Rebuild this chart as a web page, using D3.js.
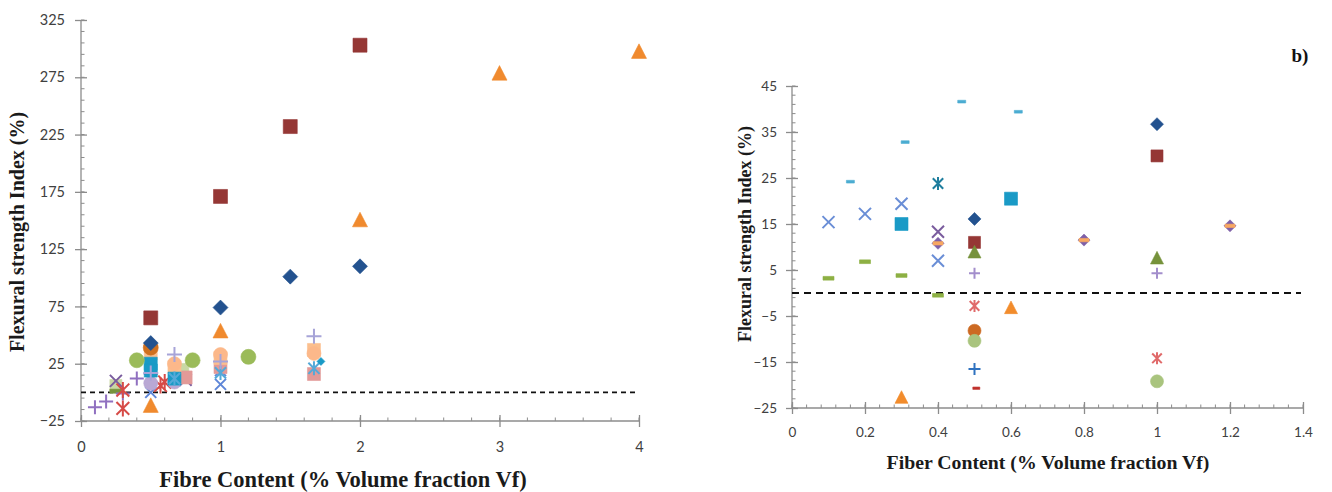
<!DOCTYPE html>
<html><head><meta charset="utf-8">
<script src="https://cdn.jsdelivr.net/npm/d3@7"></script>
<style>
html,body{margin:0;padding:0;background:#fff;}
svg{display:block;}
.tick text{font-family:Lato,"Open Sans",sans-serif;}
</style></head>
<body>
<svg id="c" width="1332" height="492"></svg>
<script>
// ---------- tick labels ----------
const leftXTicks = [0, 1, 2, 3, 4];
const leftYTicks = [-25, 25, 75, 125, 175, 225, 275, 325];
const rightXTicks = [0, 0.2, 0.4, 0.6, 0.8, 1, 1.2, 1.4];
const rightYTicks = [-25, -15, -5, 5, 15, 25, 35, 45];

// ---------- left chart (a) series: [Vf, index] ----------
const L_darkBlueDiamond = [[0.5, 43], [1, 74], [1.5, 101], [2, 110]];
const L_darkRedSquare   = [[0.5, 65], [1, 171], [1.5, 232], [2, 303]];
const L_orangeTriangle  = [[0.5, -12], [1, 53], [2, 150], [3, 278], [4, 297]];
const L_greenCircle     = [[0.4, 28], [0.8, 28], [1.2, 31]];
const L_brownCircle     = [[0.5, 39]];
const L_tealSquare      = [[0.5, 25], [0.5, 19], [0.67, 12]];
const L_peachSquare     = [[0.5, 34], [0.67, 22], [1, 30], [1.67, 37]];
const L_peachCircle     = [[0.67, 25], [1, 33], [1.67, 34]];
const L_salmonSquare    = [[0.75, 13], [1, 22], [1.67, 16]];
const L_lavenderPlus    = [[0.5, 17], [0.67, 33], [1, 27], [1.67, 49]];
const L_purplePlus      = [[0.1, -13], [0.18, -8], [0.3, -1], [0.4, 12], [0.5, 16]];
const L_purpleX         = [[0.25, 10], [0.5, 14], [0.75, 11]];
const L_redAsterisk     = [[0.3, -14], [0.3, 2], [0.57, 6], [0.6, 9]];
const L_lightBlueX      = [[0.5, 0], [0.67, 10], [1, 7], [1, 19]];
const L_lightBlueAst    = [[0.67, 12], [1, 17], [1.67, 21]];
const L_lightPurpleCirc = [[0.5, 8], [0.67, 9]];
const L_tanSquare       = [[0.25, 6], [0.73, 20]];
const L_greenDash       = [[0.25, 1]];
const L_tealDiamond     = [[1.72, 27]];

// ---------- right chart (b) series ----------
const R_darkBlueDiamond = [[0.5, 16.1], [1, 36.7]];
const R_darkRedSquare   = [[0.5, 11], [1, 29.8]];
const R_oliveTriangle   = [[0.5, 8.8], [1, 7.5]];
const R_blueX           = [[0.1, 15.4], [0.2, 17.2], [0.3, 19.4], [0.4, 7]];
const R_purpleX         = [[0.4, 13.3]];
const R_tealAsterisk    = [[0.4, 23.8]];
const R_redAsterisk     = [[0.5, -2.8], [1, -14.2]];
const R_lavenderPlus    = [[0.5, 4.3], [1, 4.3]];
const R_bluePlus        = [[0.5, -16.5]];
const R_brownCircle     = [[0.5, -8.2]];
const R_lightGreenCirc  = [[0.5, -10.4], [1, -19.2]];
const R_tealSquare      = [[0.3, 15], [0.6, 20.5]];
const R_orangeTriangle  = [[0.3, -22.8], [0.6, -3.3]];
const R_lightBlueDash   = [[0.16, 24.2], [0.31, 32.8], [0.465, 41.6], [0.62, 39.4]];
const R_greenDash       = [[0.1, 3.2], [0.2, 6.8], [0.3, 3.8], [0.4, -0.5]];
const R_redDash         = [[0.505, -20.7]];
const R_purpleDiamond   = [[0.4, 10.8], [0.8, 11.5], [1.2, 14.6]];
const R_orangeDash      = [[0.4, 10.8], [0.8, 11.5], [1.2, 14.6]];

// ---------- marker shapes ----------
function markerPath(type, s) {
  const h = s / 2;
  switch (type) {
    case "square": return `M${-h},${-h}h${s}v${s}h${-s}Z`;
    case "diamond": return `M0,${-h}L${h},0L0,${h}L${-h},0Z`;
    case "triangle": return `M0,${-s*0.55}L${h},${s*0.42}L${-h},${s*0.42}Z`;
    case "circle": return d3.arc()({innerRadius:0, outerRadius:h, startAngle:0, endAngle:2*Math.PI});
    case "x": return `M${-h},${-h}L${h},${h}M${-h},${h}L${h},${-h}`;
    case "plus": return `M${-h},0H${h}M0,${-h}V${h}`;
    case "asterisk": return `M${-h*0.8},${-h*0.8}L${h*0.8},${h*0.8}M${-h*0.8},${h*0.8}L${h*0.8},${-h*0.8}M0,${-h}V${h}`;
    case "dash": return `M${-h},${-s*0.17}h${s}v${s*0.34}h${-s}Z`;
  }
}
const stroked = t => (t === "x" || t === "plus" || t === "asterisk");

const leftSeries = [
  {d: L_lightBlueX, t: "x", c: "#5E86D8", s: 11},
  {d: L_tanSquare, t: "square", c: "#C9D8A4", s: 12},
  {d: L_greenDash, t: "dash", c: "#77933C", s: 12},
  {d: L_purplePlus, t: "plus", c: "#9070C0", s: 14},
  {d: L_purpleX, t: "x", c: "#7A5C9E", s: 12},
  {d: L_redAsterisk, t: "asterisk", c: "#D64B47", s: 16},
  {d: L_lightPurpleCirc, t: "circle", c: "#B9A8D4", s: 14},
  {d: L_salmonSquare, t: "square", c: "#E29A98", s: 13},
  {d: L_peachSquare, t: "square", c: "#FBBF8E", s: 13},
  {d: L_tealSquare, t: "square", c: "#1A9AC6", s: 13},
  {d: L_peachCircle, t: "circle", c: "#FCB88A", s: 14},
  {d: L_lightBlueAst, t: "asterisk", c: "#55A9D8", s: 14},
  {d: L_tealDiamond, t: "diamond", c: "#1A9AC6", s: 8},
  {d: L_lavenderPlus, t: "plus", c: "#A7A4D8", s: 15},
  {d: L_greenCircle, t: "circle", c: "#9BBB59", s: 15},
  {d: L_brownCircle, t: "circle", c: "#D0701F", s: 15},
  {d: L_orangeTriangle, t: "triangle", c: "#F08A2E", s: 15},
  {d: L_darkBlueDiamond, t: "diamond", c: "#23528F", s: 15},
  {d: L_darkRedSquare, t: "square", c: "#953735", s: 14}
];

const rightSeries = [
  {d: R_lightBlueDash, t: "dash", c: "#4BACD2", s: 8},
  {d: R_greenDash, t: "dash", c: "#8DB043", s: 11},
  {d: R_blueX, t: "x", c: "#6A8ED6", s: 12},
  {d: R_purpleX, t: "x", c: "#7A5C9E", s: 12},
  {d: R_tealAsterisk, t: "asterisk", c: "#1F7E9E", s: 13},
  {d: R_tealSquare, t: "square", c: "#1A9AC6", s: 13},
  {d: R_darkBlueDiamond, t: "diamond", c: "#23528F", s: 13},
  {d: R_darkRedSquare, t: "square", c: "#953735", s: 12},
  {d: R_purpleDiamond, t: "diamond", c: "#7E60A8", s: 12},
  {d: R_orangeDash, t: "dash", c: "#F8A862", s: 10},
  {d: R_oliveTriangle, t: "triangle", c: "#76923B", s: 13},
  {d: R_lavenderPlus, t: "plus", c: "#A38ECC", s: 11},
  {d: R_redAsterisk, t: "asterisk", c: "#E06A6A", s: 12},
  {d: R_orangeTriangle, t: "triangle", c: "#F28C2C", s: 13},
  {d: R_brownCircle, t: "circle", c: "#CC6A22", s: 13},
  {d: R_lightGreenCirc, t: "circle", c: "#A9C47E", s: 13},
  {d: R_bluePlus, t: "plus", c: "#2F72C0", s: 12},
  {d: R_redDash, t: "dash", c: "#C0302B", s: 7}
];

const svg = d3.select("#c");
const AXIS = "#8C8C8C";
const LABEL = "#404040";

function drawPanel(cfg) {
  const x = d3.scaleLinear().domain(cfg.xDom).range(cfg.xRange);
  const y = d3.scaleLinear().domain(cfg.yDom).range(cfg.yRange);
  const g = svg.append("g");
  const x0 = x(cfg.xDom[0]), y0 = y(cfg.yDom[0]);

  // minor ticks
  const xm = d3.range(cfg.xDom[0], cfg.xDom[1] + 1e-9, cfg.xMinor);
  g.selectAll(null).data(xm).join("line")
    .attr("x1", d => x(d)).attr("x2", d => x(d))
    .attr("y1", y0).attr("y2", y0 - 3.5)
    .attr("stroke", AXIS).attr("stroke-width", 1);
  const ym = d3.range(cfg.yDom[0], cfg.yDom[1] + 1e-9, cfg.yMinor);
  g.selectAll(null).data(ym).join("line")
    .attr("y1", d => y(d)).attr("y2", d => y(d))
    .attr("x1", x0).attr("x2", x0 + 3.5)
    .attr("stroke", AXIS).attr("stroke-width", 1);

  // axes
  const xa = g.append("g").attr("transform", `translate(0,${y0})`)
    .call(d3.axisBottom(x).tickValues(cfg.xTicks).tickSize(6).tickFormat(d3.format("~g")));
  xa.select(".domain").attr("stroke", AXIS).attr("stroke-width", 1.3);
  xa.selectAll(".tick line").attr("stroke", AXIS).attr("y1", -6).attr("stroke-width", 1.3);
  xa.selectAll(".tick text").attr("font-size", cfg.tickFont).attr("fill", LABEL)
    .attr("y", cfg.xLabelY).attr("dy", "0.35em");
  const ya = g.append("g").attr("transform", `translate(${x0},0)`)
    .call(d3.axisLeft(y).tickValues(cfg.yTicks).tickSize(6));
  ya.select(".domain").attr("stroke", AXIS).attr("stroke-width", 1.3);
  ya.selectAll(".tick line").attr("stroke", AXIS).attr("x1", 6).attr("stroke-width", 1.3);
  ya.selectAll(".tick text").attr("font-size", cfg.tickFont).attr("fill", LABEL).attr("x", cfg.yLabelX);
  xa.selectAll(".domain").attr("d", `M${cfg.xRange[0]},0H${cfg.xRange[1]}`);
  ya.selectAll(".domain").attr("d", `M0,${cfg.yRange[0]}V${cfg.yRange[1]}`);

  // zero reference line
  g.append("line").attr("x1", x0).attr("x2", x(cfg.xDom[1]) - 2)
    .attr("y1", y(0)).attr("y2", y(0))
    .attr("stroke", "#111").attr("stroke-width", cfg.dashW).attr("stroke-dasharray", cfg.dash);

  // markers
  cfg.series.forEach(s => {
    g.selectAll(null).data(s.d).join("path")
      .attr("transform", d => `translate(${x(d[0])},${y(d[1])})`)
      .attr("d", markerPath(s.t, s.s))
      .attr("fill", stroked(s.t) ? "none" : s.c)
      .attr("stroke", s.c)
      .attr("stroke-width", stroked(s.t) ? 2 : 0.6)
      .attr("stroke-linejoin", "round");
  });

  // titles
  g.append("text").attr("x", cfg.xTitle[0]).attr("y", cfg.xTitle[1])
    .attr("text-anchor", "middle").attr("font-family", "'Liberation Serif','DejaVu Serif',serif")
    .attr("font-weight", "bold").attr("font-size", cfg.xTitleFont).attr("fill", "#1a1a1a")
    .text(cfg.xLabel);
  g.append("text").attr("transform", `translate(${cfg.yTitle[0]},${cfg.yTitle[1]}) rotate(-90)`)
    .attr("text-anchor", "middle").attr("font-family", "'Liberation Serif','DejaVu Serif',serif")
    .attr("font-weight", "bold").attr("font-size", cfg.yTitleFont).attr("fill", "#1a1a1a")
    .text(cfg.yLabel);
}

drawPanel({
  xDom: [0, 4], xRange: [81, 639], yDom: [-25, 325], yRange: [421, 20],
  xTicks: leftXTicks, yTicks: leftYTicks, xMinor: 0.2, yMinor: 10,
  tickFont: 14.5, xLabelY: 26, yLabelX: -16,
  dash: "5,4", dashW: 1.8,
  series: leftSeries,
  xLabel: "Fibre Content (% Volume fraction Vf)", yLabel: "Flexural strength Index (%)",
  xTitle: [343, 487], yTitle: [24, 232], xTitleFont: 22.5, yTitleFont: 20
});

drawPanel({
  xDom: [0, 1.4], xRange: [792, 1303], yDom: [-25, 45], yRange: [408, 86],
  xTicks: rightXTicks, yTicks: rightYTicks, xMinor: 0.04, yMinor: 2,
  tickFont: 13.5, xLabelY: 24, yLabelX: -15,
  dash: "7,5", dashW: 2,
  series: rightSeries,
  xLabel: "Fiber Content (% Volume fraction Vf)", yLabel: "Flexural strength Index (%)",
  xTitle: [1048, 469], yTitle: [751, 234], xTitleFont: 19.8, yTitleFont: 18
});

svg.append("text").attr("x", 1300).attr("y", 62).attr("text-anchor", "middle")
  .attr("font-family", "'Liberation Serif',serif").attr("font-weight", "bold")
  .attr("font-size", 19).attr("fill", "#111").text("b)");
</script>
</body></html>
